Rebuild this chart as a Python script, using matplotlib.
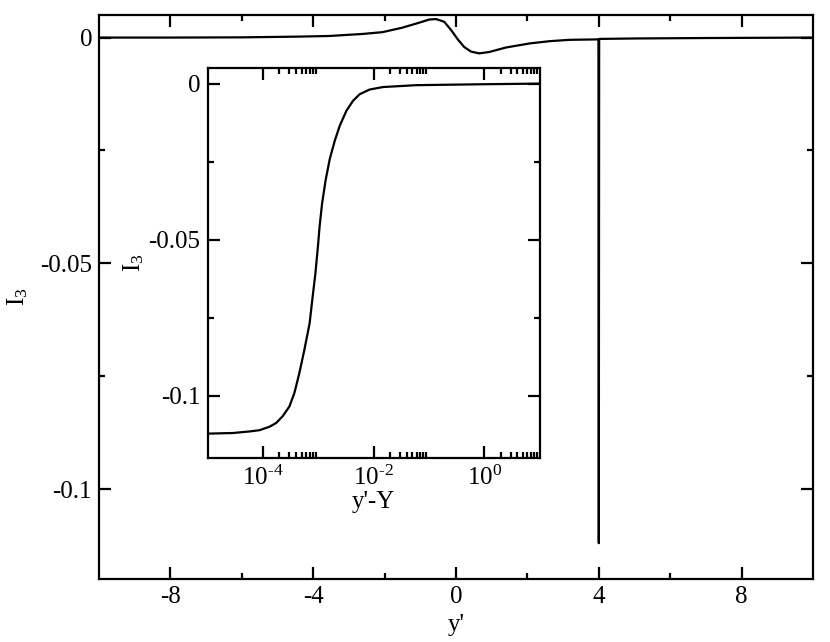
import numpy as np
import matplotlib
matplotlib.use("Agg")
import matplotlib.pyplot as plt
from matplotlib.ticker import FixedLocator, FuncFormatter

plt.rcParams['font.family'] = ['Liberation Serif', 'DejaVu Serif']
plt.rcParams['mathtext.fontset'] = 'custom'
plt.rcParams['mathtext.rm'] = 'Liberation Serif'
plt.rcParams['mathtext.it'] = 'Liberation Serif:italic'
plt.rcParams['font.size'] = 18

# main panel: I3 against y' (spike at Y = 4)
main_x = [-10, -8, -6, -4.5, -3.55, -2.62, -2.06, -1.50, -1.03, -0.75, -0.56,
          -0.33, -0.14, 0.05, 0.23, 0.42, 0.65, 0.93, 1.40, 2.06, 2.62, 3.18,
          3.99, 4.0, 4.01, 5.0, 7.0, 10]
main_y = [0.0, 0.0, 0.00005, 0.0002, 0.00035, 0.0008, 0.0012, 0.0022, 0.0033,
          0.0040, 0.0041, 0.0035, 0.0017, -0.0004, -0.0021, -0.0031, -0.0035,
          -0.0032, -0.0022, -0.0013, -0.0008, -0.0005, -0.0004, -0.112,
          -0.0003, -0.0002, -0.0001, 0.0]

# inset: I3 against y'-Y on a log axis
ins_logx = [-5.0, -4.54, -4.24, -4.06, -3.88, -3.76, -3.64, -3.52, -3.43,
            -3.34, -3.25, -3.155, -3.10, -3.05, -3.005, -2.975, -2.93, -2.866,
            -2.79, -2.70, -2.61, -2.49, -2.37, -2.25, -2.07, -1.83, -1.23,
            -0.02, 1.0]
ins_y = [-0.1121, -0.1119, -0.1114, -0.1110, -0.1099, -0.1087, -0.1065,
         -0.1034, -0.0991, -0.0927, -0.0853, -0.0768, -0.0683, -0.0608,
         -0.0523, -0.0459, -0.0385, -0.0310, -0.0241, -0.0183, -0.0135,
         -0.0087, -0.0055, -0.0034, -0.0019, -0.0011, -0.0005, -0.0002, 0.0]

fig = plt.figure(figsize=(8.3, 6.42), dpi=100)

ax = fig.add_axes([99/830, 1-579.3/642, 714/830, 564.3/642])
ax.plot(main_x, main_y, color='black', lw=1.6)
ax.set_xlim(-10, 10)
ax.set_ylim(-0.12, 0.005)
ax.set_xticks([-8, -4, 0, 4, 8])
ax.set_xticklabels(['-8', '-4', '0', '4', '8'])
ax.set_xticks([-6, -2, 2, 6], minor=True)
ax.set_yticks([0, -0.05, -0.1])
ax.set_yticklabels(['0', '-0.05', '-0.1'])
ax.set_yticks([-0.025, -0.075], minor=True)
ax.set_xlabel("y'", labelpad=4)
ax.set_ylabel(r"I$_3$", labelpad=7)

ins = fig.add_axes([207.5/830, 1-458.3/642, 332/830, 390.3/642])
ins.plot(10.0**np.array(ins_logx), ins_y, color='black', lw=1.6)
ins.set_xscale('log')
ins.set_xlim(1e-5, 10)
ins.set_ylim(-0.12, 0.005)
ins.xaxis.set_major_locator(FixedLocator([1e-4, 1e-2, 1e0]))
ins.xaxis.set_major_formatter(FuncFormatter(
    lambda v, p: r'10$^{\text{%d}}$' % int(round(np.log10(v)))))
minors = [m * 10.0**k for k in (-4, -2, 0) for m in range(2, 10)]
ins.xaxis.set_minor_locator(FixedLocator(minors))
ins.xaxis.set_minor_formatter(FuncFormatter(lambda v, p: ''))
ins.set_yticks([0, -0.05, -0.1])
ins.set_yticklabels(['0', '-0.05', '-0.1'])
ins.set_yticks([-0.025, -0.075], minor=True)
ins.set_xlabel("y'-Y", labelpad=1)
ins.set_ylabel(r"I$_3$", labelpad=2)

for a in (ax, ins):
    for s in a.spines.values():
        s.set_linewidth(1.6)
    a.tick_params(which='both', direction='in', top=True, right=True, width=1.6)
    a.tick_params(which='major', length=8.8, pad=5)
    a.tick_params(which='minor', length=4.5)

fig.savefig("out.png", dpi=100)
